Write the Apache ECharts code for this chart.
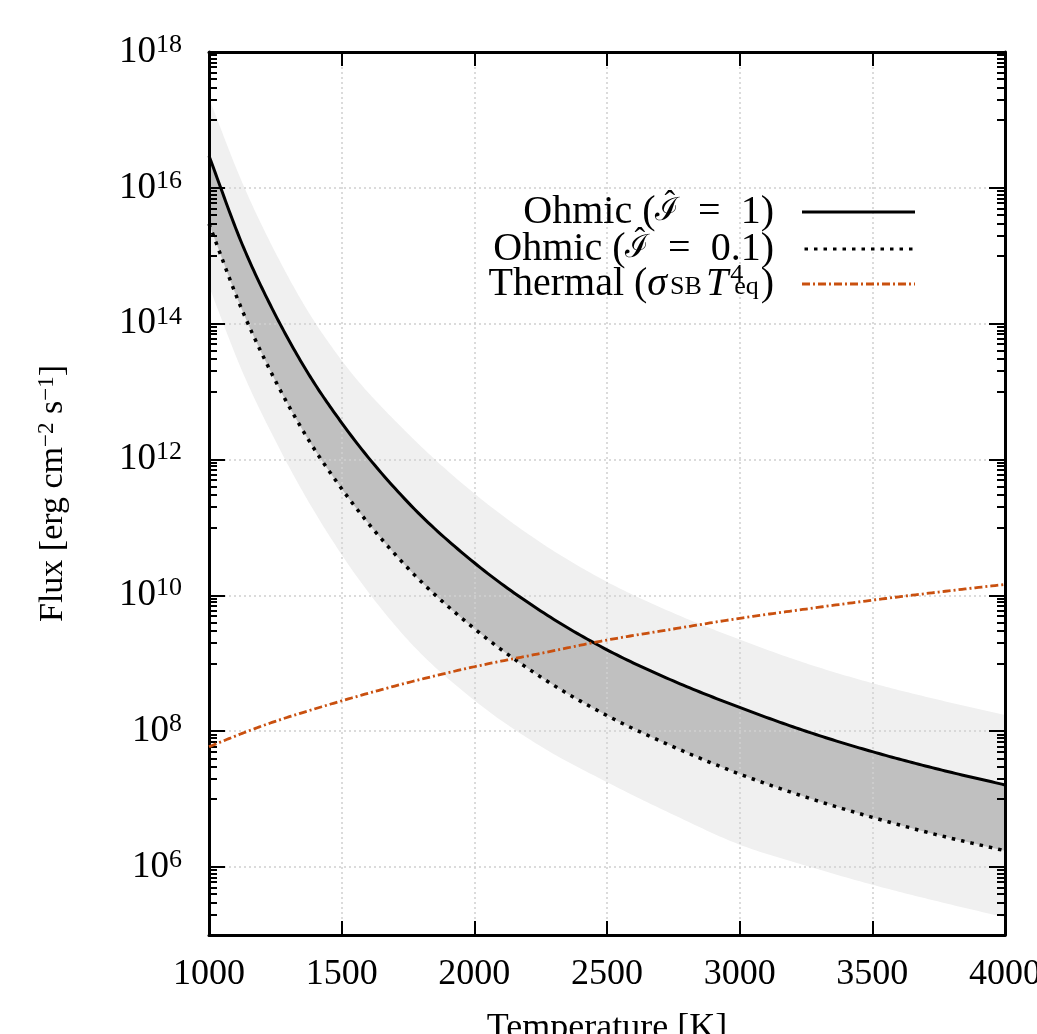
<!DOCTYPE html>
<html>
<head>
<meta charset="utf-8">
<script src="https://cdn.jsdelivr.net/npm/echarts@6/dist/echarts.min.js"></script>
<style>
  html, body { margin: 0; padding: 0; background: #ffffff; }
  #chart { width: 1037px; height: 1034px; }
</style>
</head>
<body>
<div id="chart"></div>
<script>
// Temperature grid [K]
const temperature = [1000, 1125, 1250, 1375, 1500, 1750, 2000, 2250, 2500, 2750, 3000, 3250, 3500, 3750, 4000];

// Ohmic heating flux for I = 1 and I = 0.1 [erg cm^-2 s^-1]
const ohmicUnity = [2.95e16, 1.48e15, 1.35e14, 1.82e13, 3.47e12, 2.34e11, 3.02e10, 5.9e9, 1.58e9, 5.5e8, 2.24e8, 1.0e8, 5.0e7, 2.75e7, 1.62e7];
const ohmicTenth = [2.95e15, 1.58e14, 1.45e13, 1.95e12, 3.72e11, 2.51e10, 3.24e9, 6.3e8, 1.7e8, 5.9e7, 2.34e7, 1.07e7, 5.4e6, 2.95e6, 1.74e6];

// Outer uncertainty envelope
const envelopeUpper = [2.09e17, 1.2e16, 1.12e15, 1.48e14, 2.88e13, 2.4e12, 3.16e11, 6.0e10, 1.58e10, 5.5e9, 2.24e9, 1.0e9, 5.1e8, 2.9e8, 1.74e8];
const envelopeLower = [3.55e14, 2.0e13, 1.9e12, 2.4e11, 3.98e10, 2.2e9, 2.85e8, 6.0e7, 1.78e7, 5.9e6, 2.14e6, 1.05e6, 5.5e5, 3.1e5, 1.82e5];

// Thermal flux sigma_SB * T_eq^4
const thermal = [5.9e7, 9.3e7, 1.4e8, 2.0e8, 2.8e8, 5.2e8, 8.9e8, 1.4e9, 2.2e9, 3.2e9, 4.6e9, 6.3e9, 8.5e9, 1.12e10, 1.45e10];

// Axis ticks
const xTickValues = [1000, 1500, 2000, 2500, 3000, 3500, 4000];
const yMajorTicks = [1e6, 1e8, 1e10, 1e12, 1e14, 1e16, 1e18];
const yMinorTicks = [];
[5, 7, 9, 11, 13, 15, 17].forEach(function (e) {
  for (let k = 1; k <= 9; k++) yMinorTicks.push(k * Math.pow(10, e));
});

const SERIF = 'Liberation Serif, Times New Roman, serif';
const INK = '#000000';
const LIGHT = '#f0f0f0';
const DARK = '#c0c0c0';
const ORANGE = '#c9500f';

const SOLID_STYLE = { stroke: INK, lineWidth: 3, lineCap: 'butt' };
const DOTTED_STYLE = { stroke: INK, lineWidth: 3.5, lineDash: [3.5, 6], lineCap: 'butt' };
const DASHDOT_STYLE = { stroke: ORANGE, lineWidth: 2.8, lineDash: [8, 3, 2, 3], lineCap: 'butt' };

// Monotone cubic through pixel points (x increasing), sampled for drawing
function smoothPixels(pts) {
  const n = pts.length, out = [];
  const h = [], d = [];
  for (let i = 0; i < n - 1; i++) {
    h.push(pts[i + 1][0] - pts[i][0]);
    d.push((pts[i + 1][1] - pts[i][1]) / h[i]);
  }
  const m = new Array(n);
  m[0] = d[0]; m[n - 1] = d[n - 2];
  for (let i = 1; i < n - 1; i++) {
    if (d[i - 1] * d[i] <= 0) m[i] = 0;
    else m[i] = (d[i - 1] * h[i] + d[i] * h[i - 1]) / (h[i - 1] + h[i]);
  }
  for (let i = 0; i < n - 1; i++) {
    if (d[i] === 0) { m[i] = m[i + 1] = 0; continue; }
    const a = m[i] / d[i], b = m[i + 1] / d[i], s = a * a + b * b;
    if (s > 9) { const t = 3 / Math.sqrt(s); m[i] = t * a * d[i]; m[i + 1] = t * b * d[i]; }
  }
  for (let i = 0; i < n - 1; i++) {
    const x0 = pts[i][0], y0 = pts[i][1], y1 = pts[i + 1][1];
    for (let k = 0; k < 20; k++) {
      const t = k / 20, t2 = t * t, t3 = t2 * t;
      out.push([x0 + h[i] * t,
        (2 * t3 - 3 * t2 + 1) * y0 + (t3 - 2 * t2 + t) * h[i] * m[i] +
        (-2 * t3 + 3 * t2) * y1 + (t3 - t2) * h[i] * m[i + 1]]);
    }
  }
  out.push(pts[n - 1]);
  return out;
}

function curvePixels(api, ys) {
  return smoothPixels(temperature.map((t, i) => api.coord([t, ys[i]])));
}

function bandPolygon(api, upper, lower, fill) {
  const pts = curvePixels(api, upper).concat(curvePixels(api, lower).reverse());
  return { type: 'polygon', shape: { points: pts }, style: { fill: fill }, silent: true };
}

function curveSeries(name, ys, style) {
  return {
    name: name, type: 'custom', xAxisIndex: 0, yAxisIndex: 0, z: 5, silent: true,
    itemStyle: { color: style.stroke },
    data: [[temperature[0], ys[0]]],
    renderItem: function (params, api) {
      return { type: 'polyline', shape: { points: curvePixels(api, ys) },
        style: Object.assign({ fill: null }, style) };
    }
  };
}

// Legend line samples as icon paths (113 x 3)
const KEY_LEN = 113;
function dashIcon(pattern) {
  let x = 0, k = 0, d = '';
  while (x < KEY_LEN) {
    const on = pattern[k % pattern.length], off = pattern[(k + 1) % pattern.length];
    const w = Math.min(on, KEY_LEN - x);
    d += 'M' + x + ',0h' + w + 'v3h' + (-w) + 'z';
    x += on + off; k += 2;
  }
  return 'path://' + d;
}

const yBase = { type: 'log', logBase: 10, min: 0.99999e5, max: 1.00001e18, gridIndex: 0 };
const frameLine = { show: true, lineStyle: { color: INK, width: 3 } };
const gridDots = { show: true, lineStyle: { color: '#cfcfcf', width: 1.5, type: [2, 3] } };

const chart = echarts.init(document.getElementById('chart'), null, { renderer: 'canvas' });

chart.setOption({
  animation: false,
  backgroundColor: '#ffffff',
  grid: { left: 209, right: 32, top: 52, bottom: 99, containLabel: false, outerBoundsMode: 'none' },
  legend: {
    data: [
      { name: 'Ohmic (I = 1)', icon: 'path://M0,0h' + KEY_LEN + 'v3h-' + KEY_LEN + 'z' },
      { name: 'Ohmic (I = 0.1)', icon: dashIcon([3.5, 6]) },
      { name: 'Thermal', icon: dashIcon([8, 3, 2, 3]) }
    ],
    orient: 'vertical',
    align: 'right',
    right: 117,
    top: 183,
    itemWidth: KEY_LEN,
    itemHeight: 3,
    itemGap: -7,
    selectedMode: false,
    formatter: function (name) {
      if (name === 'Ohmic (I = 1)') return '{t|Ohmic (}{m|ℐ}{h|ˆ}{t|  =  1)}{g| }';
      if (name === 'Ohmic (I = 0.1)') return '{t|Ohmic (}{m|ℐ}{h|ˆ}{t|  =  0.1)}{g| }';
      return '{t|Thermal (}{i|σ}{s|SB}{i|T}{p|4}{e|eq}{t|)}{g| }';
    },
    textStyle: {
      fontFamily: SERIF, fontSize: 40, color: INK, lineHeight: 32,
      rich: {
        t: { fontFamily: SERIF, fontSize: 40, lineHeight: 32, color: INK },
        m: { fontFamily: 'DejaVu Serif, serif', fontSize: 32, lineHeight: 32, color: INK },
        h: { fontFamily: SERIF, fontSize: 32, lineHeight: 14, verticalAlign: 'top', color: INK, padding: [-8, 3, 0, -15] },
        i: { fontFamily: SERIF, fontSize: 40, lineHeight: 32, fontStyle: 'italic', color: INK, padding: [0, 2, 0, 0] },
        s: { fontFamily: SERIF, fontSize: 26, lineHeight: 14, verticalAlign: 'bottom', color: INK, padding: [0, 4, 0, 1] },
        p: { fontFamily: SERIF, fontSize: 26, lineHeight: 12, verticalAlign: 'top', color: INK, padding: [-6, 0, 0, 0] },
        e: { fontFamily: SERIF, fontSize: 26, lineHeight: 14, verticalAlign: 'bottom', color: INK, padding: [0, 2, 0, -9] },
        g: { fontFamily: SERIF, fontSize: 20, lineHeight: 20, width: 23 }
      }
    }
  },
  xAxis: [
    {
      type: 'value', position: 'bottom', min: 1000, max: 4000, interval: 500, z: 3,
      axisLine: frameLine,
      axisTick: { show: true, inside: true, length: 14, lineStyle: { color: INK, width: 2 } },
      axisLabel: { show: true, margin: 22, fontFamily: SERIF, fontSize: 36, color: INK,
        customValues: xTickValues, formatter: function (v) { return String(v); } },
      splitLine: gridDots,
      name: 'Temperature [K]', nameLocation: 'middle', nameGap: 76,
      nameTextStyle: { fontFamily: SERIF, fontSize: 36, color: INK }
    },
    {
      type: 'value', position: 'top', min: 1000, max: 4000, interval: 500, z: 3,
      axisLine: frameLine,
      axisTick: { show: true, inside: true, length: 14, lineStyle: { color: INK, width: 2 } },
      axisLabel: { show: false }, splitLine: { show: false }
    }
  ],
  yAxis: [
    Object.assign({}, yBase, {
      position: 'left', z: 3,
      axisLine: frameLine,
      axisTick: { show: true, inside: true, length: 16, customValues: yMajorTicks, lineStyle: { color: INK, width: 2 } },
      axisLabel: {
        show: true, margin: 27, customValues: yMajorTicks,
        formatter: function (v) { return '{b|10}{p|' + Math.round(Math.log10(v)) + '}'; },
        rich: {
          b: { fontFamily: SERIF, fontSize: 37, lineHeight: 40, color: INK },
          p: { fontFamily: SERIF, fontSize: 26, lineHeight: 22, verticalAlign: 'top', color: INK }
        }
      },
      splitLine: gridDots,
      name: '{t|Flux [erg cm}{p|−2}{t| s}{p|−1}{t|]}',
      nameLocation: 'middle', nameRotate: 90, nameGap: 138,
      nameTextStyle: {
        fontFamily: SERIF, fontSize: 34, color: INK,
        rich: {
          t: { fontFamily: SERIF, fontSize: 34, lineHeight: 36, color: INK },
          p: { fontFamily: SERIF, fontSize: 23, lineHeight: 20, verticalAlign: 'top', color: INK }
        }
      }
    }),
    Object.assign({}, yBase, {
      position: 'left', z: 3,
      axisLine: { show: false },
      axisTick: { show: true, inside: true, length: 8, customValues: yMinorTicks, lineStyle: { color: INK, width: 2 } },
      axisLabel: { show: false }, splitLine: { show: false }
    }),
    Object.assign({}, yBase, {
      position: 'right', z: 3,
      axisLine: frameLine,
      axisTick: { show: true, inside: true, length: 16, customValues: yMajorTicks, lineStyle: { color: INK, width: 2 } },
      axisLabel: { show: false }, splitLine: { show: false }
    }),
    Object.assign({}, yBase, {
      position: 'right', z: 3,
      axisLine: { show: false },
      axisTick: { show: true, inside: true, length: 8, customValues: yMinorTicks, lineStyle: { color: INK, width: 2 } },
      axisLabel: { show: false }, splitLine: { show: false }
    })
  ],
  series: [
    {
      name: 'bands', type: 'custom', xAxisIndex: 0, yAxisIndex: 0, z: 1, silent: true,
      data: [[temperature[0], ohmicUnity[0]]],
      renderItem: function (params, api) {
        return {
          type: 'group',
          children: [
            bandPolygon(api, envelopeUpper, envelopeLower, LIGHT),
            bandPolygon(api, ohmicUnity, ohmicTenth, DARK)
          ]
        };
      }
    },
    curveSeries('Ohmic (I = 1)', ohmicUnity, SOLID_STYLE),
    curveSeries('Ohmic (I = 0.1)', ohmicTenth, DOTTED_STYLE),
    curveSeries('Thermal', thermal, DASHDOT_STYLE)
  ]
});
</script>
</body>
</html>
